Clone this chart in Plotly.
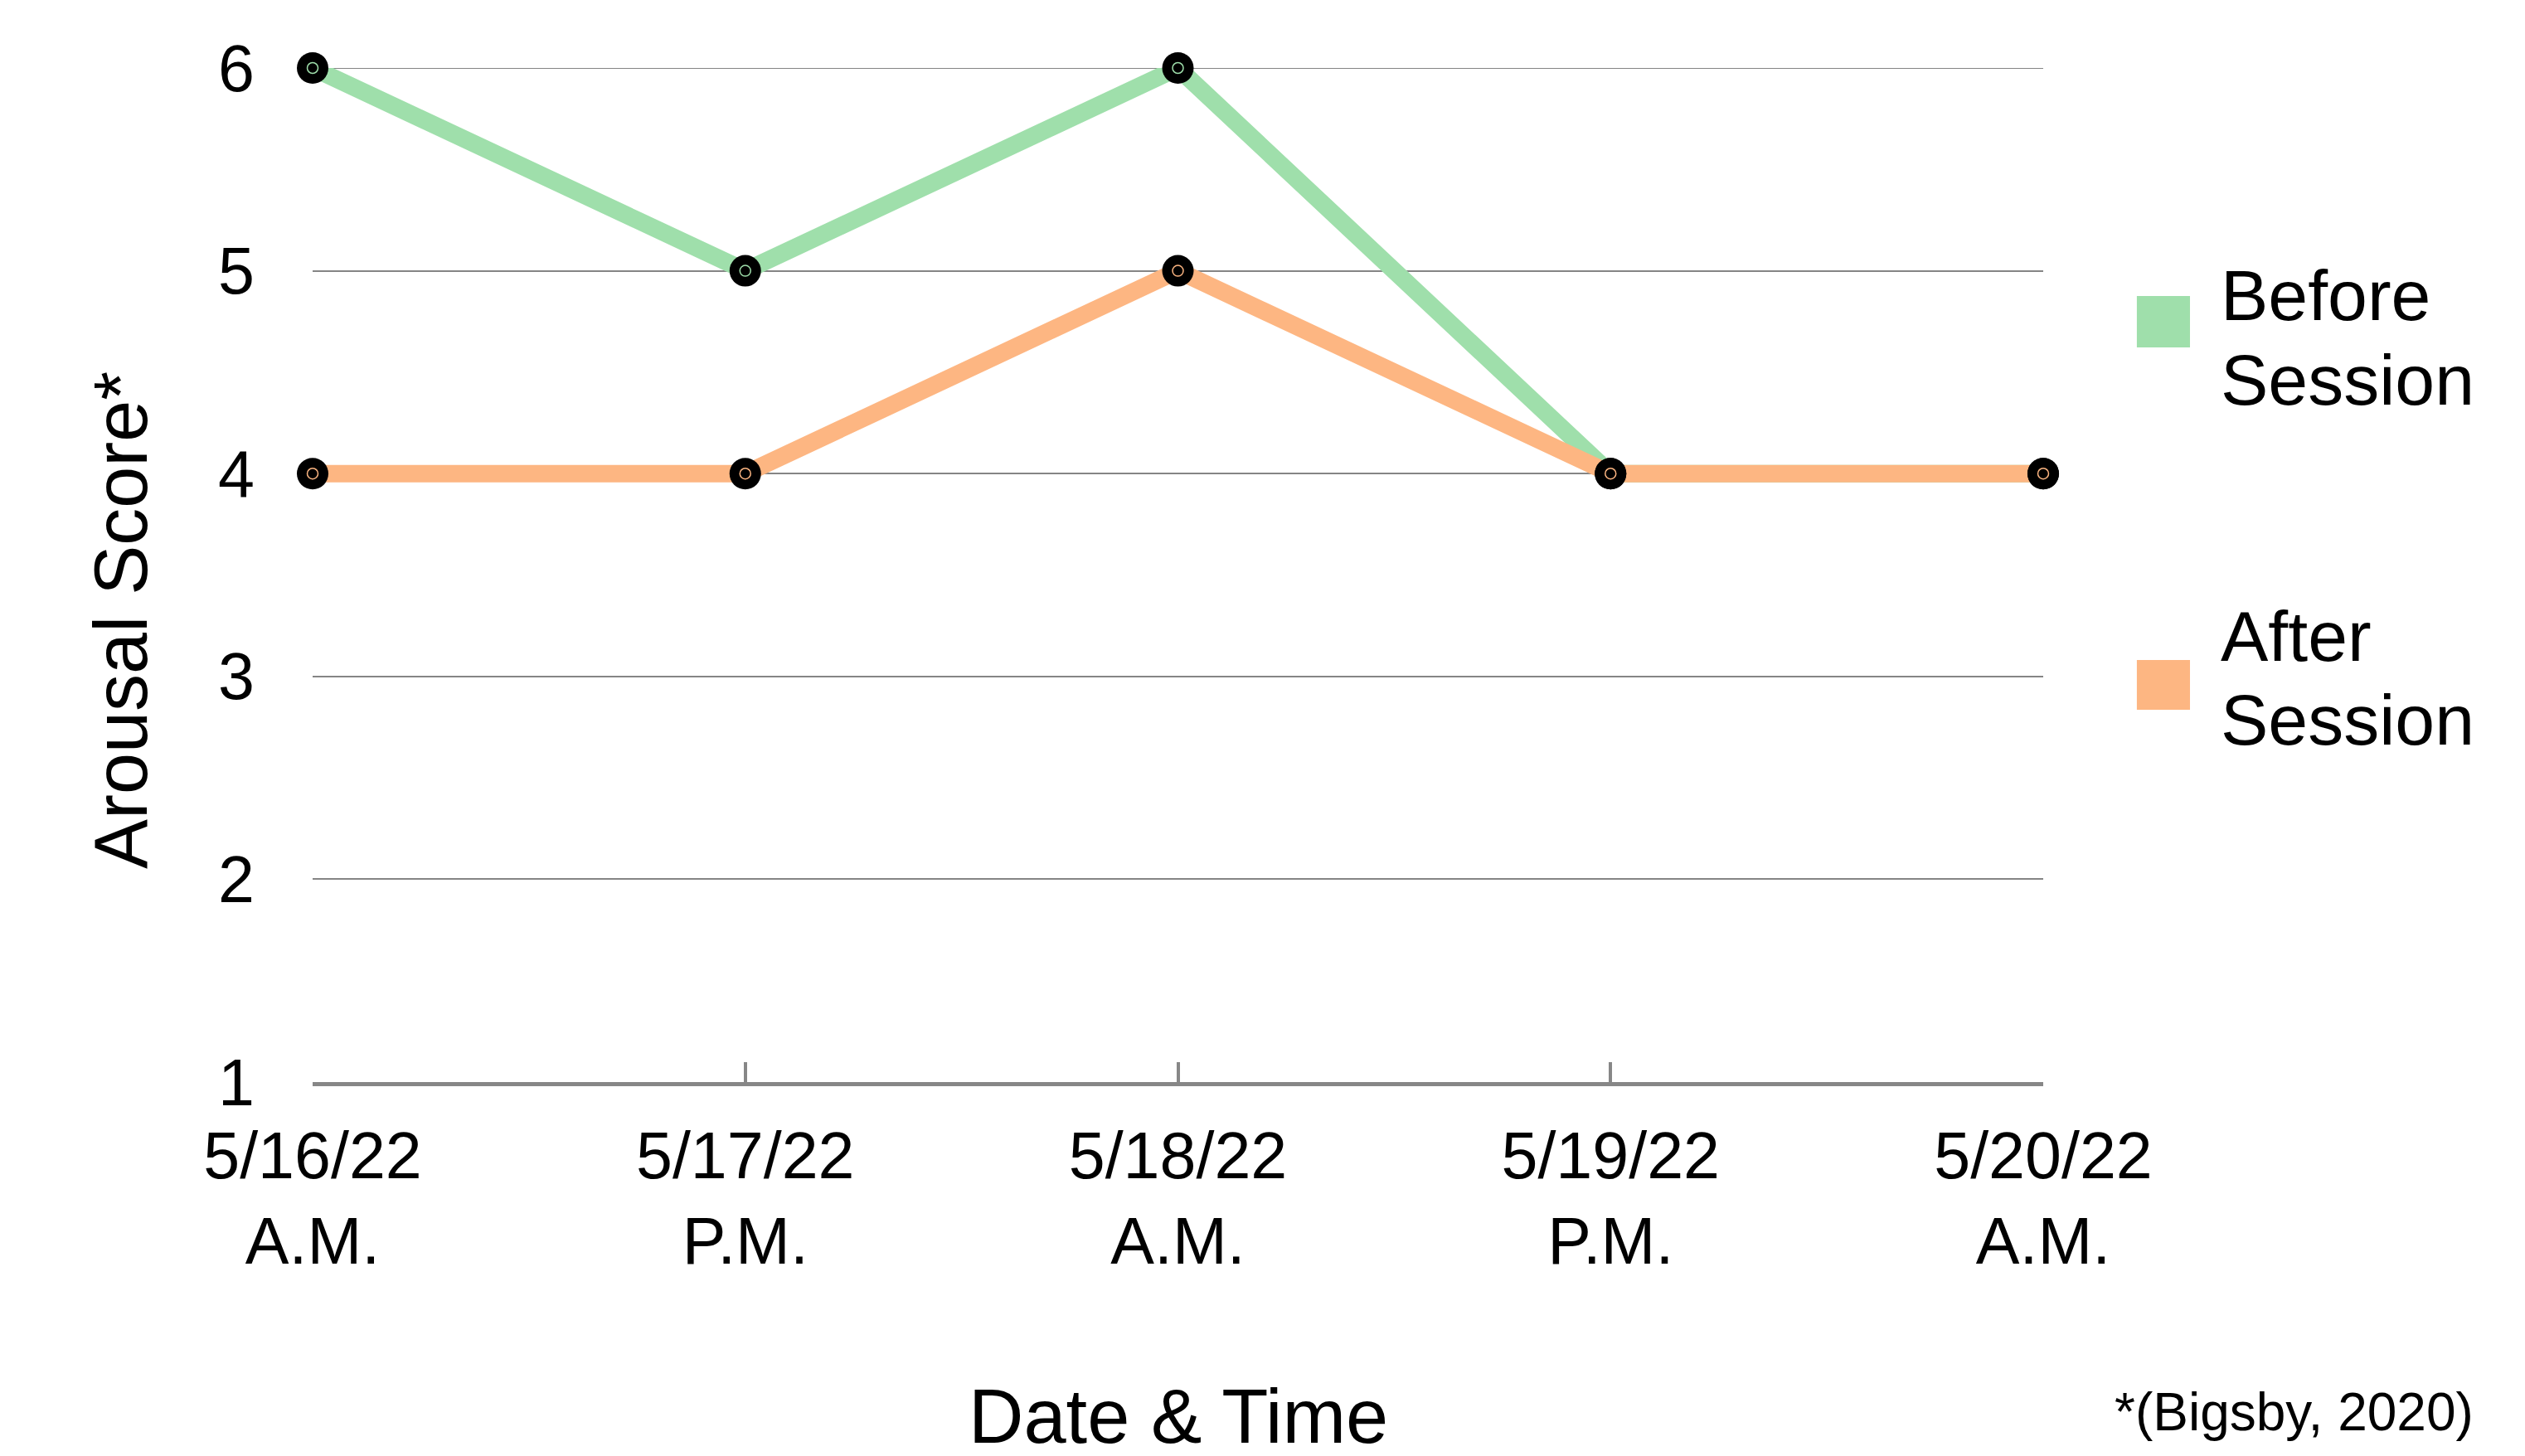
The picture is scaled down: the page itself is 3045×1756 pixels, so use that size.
import plotly.graph_objects as go

categories = ["5/16/22<br>A.M.", "5/17/22<br>P.M.", "5/18/22<br>A.M.", "5/19/22<br>P.M.", "5/20/22<br>A.M."]
before_session = [6, 5, 6, 4, 4]
after_session = [4, 4, 5, 4, 4]
series_names = ["Before<br>Session", "After<br>Session"]
y_ticks = [1, 2, 3, 4, 5, 6]

GREEN = "#9fdfab"
ORANGE = "#fdb682"
FONT = "Liberation Sans"
GRID = "#858585"

fig = go.Figure()

# top gridline (plotly omits a gridline lying on the range edge)
fig.add_shape(type="line", xref="paper", yref="y", x0=0, x1=1, y0=y_ticks[-1], y1=y_ticks[-1],
              line=dict(color=GRID, width=2), layer="below")

for vals, col in [(before_session, GREEN), (after_session, ORANGE)]:
    fig.add_trace(go.Scatter(x=categories, y=vals, mode="lines",
                             line=dict(color=col, width=21), showlegend=False,
                             cliponaxis=False, hoverinfo="skip"))

for vals, col in [(before_session, GREEN), (after_session, ORANGE)]:
    fig.add_trace(go.Scatter(x=categories, y=vals, mode="markers",
                             marker=dict(color="black", size=38, line=dict(width=0)),
                             showlegend=False, cliponaxis=False))
    fig.add_trace(go.Scatter(x=categories, y=vals, mode="markers",
                             marker=dict(symbol="circle-open", color=col, size=13,
                                         line=dict(width=1.5, color=col)),
                             showlegend=False, cliponaxis=False, hoverinfo="skip"))

# manual legend: swatch + text lines
legend_items = [(series_names[0], GREEN, 0.7751, 0.7245, [0.7343 + 0.0417, 0.7343 - 0.0417]),
                (series_names[1], ORANGE, 0.4162, 0.3671, [0.399 + 0.0413, 0.399 - 0.0413])]
for name, col, y1, y0, line_ys in legend_items:
    fig.add_shape(type="rect", xref="paper", yref="paper",
                  x0=1.0541, x1=1.0848, y0=y0, y1=y1,
                  fillcolor=col, line=dict(width=0))
    for part, ty in zip(name.split("<br>"), line_ys):
        fig.add_annotation(text=part, xref="paper", yref="paper", x=1.1016, y=ty,
                           xanchor="left", yanchor="middle", align="left", showarrow=False,
                           font=dict(size=86, color="black", family=FONT))

fig.add_annotation(text="Arousal Score*", xref="paper", yref="paper", x=-0.1107, y=0.4554,
                   textangle=-90, xanchor="center", yanchor="middle", showarrow=False,
                   font=dict(size=90, color="black", family=FONT))
fig.add_annotation(text="Date & Time", xref="paper", yref="paper", x=0.5, y=-0.3295,
                   xanchor="center", yanchor="middle", showarrow=False,
                   font=dict(size=92, color="black", family=FONT))
fig.add_annotation(text="*(Bigsby, 2020)", xref="paper", yref="paper", x=1.2497, y=-0.3254,
                   xanchor="right", yanchor="middle", showarrow=False,
                   font=dict(size=64, color="black", family=FONT))

fig.update_layout(
    width=3037, height=1748,
    margin=dict(l=369, r=581, t=74, b=451),
    paper_bgcolor="white", plot_bgcolor="white",
    font=dict(family=FONT, color="black", size=79),
    showlegend=False,
)
fig.update_xaxes(type="category", categoryorder="array", categoryarray=categories,
                 range=[0, 4], showgrid=False, showline=True, linecolor="#878787", linewidth=5,
                 ticks="inside", ticklen=24, tickwidth=4, tickcolor="#878787",
                 ticklabelstandoff=16,
                 tickfont=dict(size=79, family=FONT, color="black"), zeroline=False)
fig.update_yaxes(range=[1, 6], tickvals=y_ticks, showgrid=True, gridcolor=GRID, gridwidth=2,
                 zeroline=False, showline=False, ticks="",
                 tickfont=dict(size=79, family=FONT, color="black"), ticklabelstandoff=69)

fig.write_html("out.html")
